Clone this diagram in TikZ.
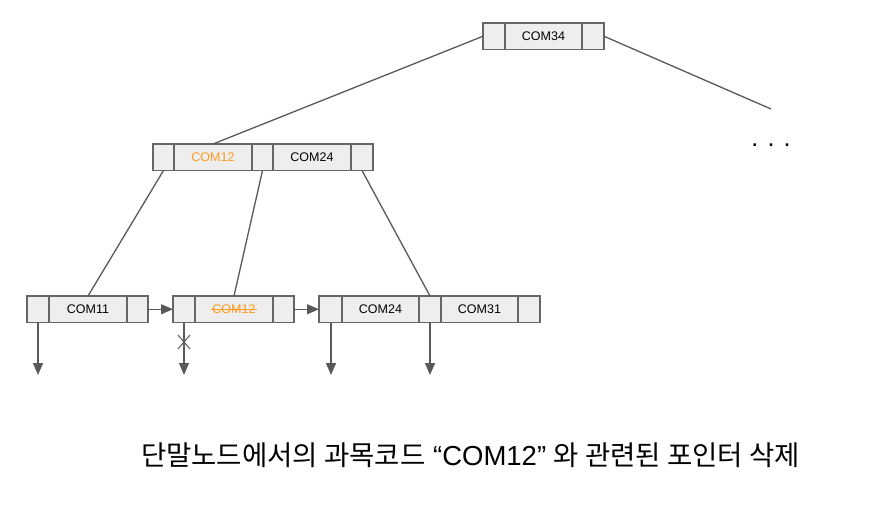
\documentclass[tikz,border=0pt]{standalone}
\usepackage{fontspec}
\setmainfont{Liberation Sans}
\newfontfamily\krfont{Noto Sans CJK KR}
\usetikzlibrary{arrows.meta}
\definecolor{boxfill}{HTML}{EEEEEE}
\definecolor{boxline}{HTML}{666666}
\definecolor{linkline}{HTML}{595959}
\definecolor{orangetxt}{HTML}{FF9A1F}
\tikzset{
  cell/.style={draw=boxline, fill=boxfill, line width=1.3pt, minimum height=26.5pt,
    inner sep=0pt, outer sep=0pt, anchor=north west,
    font=\fontsize{12.5}{14}\selectfont},
  link/.style={draw=linkline, line width=1.3pt},
  ptr/.style={link, -{Triangle[length=12pt,width=10pt]}},
}
\begin{document}
\begin{tikzpicture}[x=1pt,y=-1pt]
\useasboundingbox[fill=white] (0,0) rectangle (870,508);
% top node
\node[cell, minimum width=22pt] (t1) at (483,23) {};
\node[cell, minimum width=77pt] (t2) at (505,23) {COM34};
\node[cell, minimum width=22pt] (t3) at (582,23) {};
% middle node
\node[cell, minimum width=21pt] (m1) at (153,144) {};
\node[cell, minimum width=78pt, text=orangetxt] (m2) at (174,144) {COM12};
\node[cell, minimum width=21pt] (m3) at (252,144) {};
\node[cell, minimum width=78pt] (m4) at (273,144) {COM24};
\node[cell, minimum width=22pt] (m5) at (351,144) {};
% leaf 1
\node[cell, minimum width=22pt] (a1) at (27,296) {};
\node[cell, minimum width=78pt] (a2) at (49,296) {COM11};
\node[cell, minimum width=21pt] (a3) at (127,296) {};
% leaf 2
\node[cell, minimum width=22pt] (b1) at (173,296) {};
\node[cell, minimum width=78pt, text=orangetxt] (b2) at (195,296) {COM12};
\node[cell, minimum width=21pt] (b3) at (273,296) {};
% leaf 3
\node[cell, minimum width=24pt] (c1) at (319,296) {};
\node[cell, minimum width=77pt] (c2) at (342,296) {COM24};
\node[cell, minimum width=22pt] (c3) at (419,296) {};
\node[cell, minimum width=77pt] (c4) at (441,296) {COM31};
\node[cell, minimum width=22pt] (c5) at (518,296) {};
% strike-through
\draw[orangetxt, line width=1pt] ([xshift=-23pt]b2.center) -- ([xshift=23pt]b2.center);
% tree links
\coordinate (dotsend) at (771,109);
\draw[link] (t1.west) -- (m2.north);
\draw[link] (t3.east) -- (dotsend);
\draw[link] (m1.south) -- (a2.north);
\draw[link] (m3.south) -- (b2.north);
\draw[link] (m5.south) -- (c3.north);
\node[font=\fontsize{25}{28}\selectfont, inner sep=0pt] (dots) at (771,145) {. . .};
% leaf chain
\draw[ptr] (a3.east) -- (b1.west);
\draw[ptr] (b3.east) -- (c1.west);
% data pointers
\coordinate (pa) at (38,375);
\coordinate (pb) at (184,375);
\coordinate (pc) at (331,375);
\coordinate (pd) at (430,375);
\draw[ptr] (a1.south) -- (pa);
\draw[ptr] (b1.south) -- (pb);
\draw[ptr] (c1.south) -- (pc);
\draw[ptr] (c3.south) -- (pd);
% cross mark
\coordinate (x1) at (178,335);
\coordinate (x2) at (190,349);
\coordinate (x3) at (190,335);
\coordinate (x4) at (178,349);
\draw[link, line width=1pt] (x1) -- (x2);
\draw[link, line width=1pt] (x3) -- (x4);
% caption
\node[font=\fontsize{27.5}{32}\selectfont, inner sep=0pt] (caption) at (470.5,455)
  {{\krfont 단말노드에서의 과목코드} “COM12” {\krfont 와 관련된 포인터 삭제}};
\end{tikzpicture}
\end{document}
